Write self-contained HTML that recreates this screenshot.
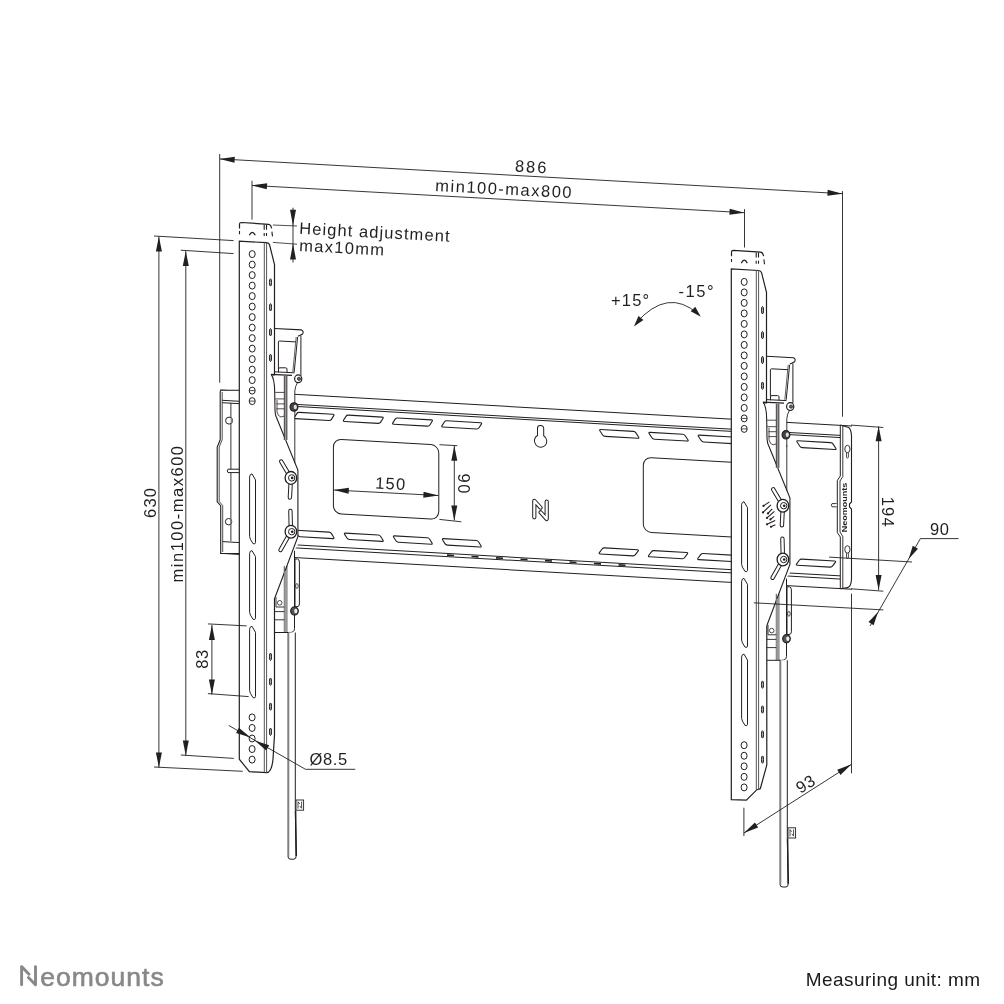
<!DOCTYPE html>
<html><head><meta charset="utf-8"><style>
html,body{margin:0;padding:0;background:#fff;overflow:hidden;}
svg{display:block;will-change:transform;}
text{font-family:"Liberation Sans",sans-serif;}
</style></head><body>
<svg width="1004" height="1004" viewBox="0 0 1004 1004">
<rect width="1004" height="1004" fill="#fff"/>
<g transform="matrix(1,0.057,0,1,0,0)">
<rect x="220" y="377.5" width="621" height="163.3" fill="#fff" stroke="none"/>
<line x1="220.00" y1="377.50" x2="852.00" y2="377.50" stroke="#231f20" stroke-width="1.0" />
<line x1="220.00" y1="387.50" x2="852.00" y2="387.50" stroke="#231f20" stroke-width="1.0" />
<line x1="220.00" y1="389.60" x2="852.00" y2="389.60" stroke="#231f20" stroke-width="1.0" />
<line x1="220.00" y1="528.00" x2="852.00" y2="528.00" stroke="#231f20" stroke-width="1.0" />
<line x1="220.00" y1="531.10" x2="852.00" y2="531.10" stroke="#231f20" stroke-width="1.0" />
<line x1="220.00" y1="540.80" x2="852.00" y2="540.80" stroke="#231f20" stroke-width="1.0" />
<path d="M296.76,396.66 Q297.60,395.30 299.20,395.30 L333.00,395.30 Q334.60,395.30 333.76,396.66 L331.44,400.44 Q330.60,401.80 329.00,401.80 L295.20,401.80 Q293.60,401.80 294.44,400.44 Z" fill="none" stroke="#231f20" stroke-width="1.1"/>
<path d="M345.96,396.66 Q346.80,395.30 348.40,395.30 L382.20,395.30 Q383.80,395.30 382.96,396.66 L380.64,400.44 Q379.80,401.80 378.20,401.80 L344.40,401.80 Q342.80,401.80 343.64,400.44 Z" fill="none" stroke="#231f20" stroke-width="1.1"/>
<path d="M395.16,396.66 Q396.00,395.30 397.60,395.30 L431.40,395.30 Q433.00,395.30 432.16,396.66 L429.84,400.44 Q429.00,401.80 427.40,401.80 L393.60,401.80 Q392.00,401.80 392.84,400.44 Z" fill="none" stroke="#231f20" stroke-width="1.1"/>
<path d="M444.36,396.66 Q445.20,395.30 446.80,395.30 L480.60,395.30 Q482.20,395.30 481.36,396.66 L479.04,400.44 Q478.20,401.80 476.60,401.80 L442.80,401.80 Q441.20,401.80 442.04,400.44 Z" fill="none" stroke="#231f20" stroke-width="1.1"/>
<path d="M599.90,396.62 Q599.00,395.30 600.60,395.30 L633.40,395.30 Q635.00,395.30 635.90,396.62 L638.60,400.58 Q639.50,401.90 637.90,401.90 L605.10,401.90 Q603.50,401.90 602.60,400.58 Z" fill="none" stroke="#231f20" stroke-width="1.1"/>
<path d="M649.20,396.62 Q648.30,395.30 649.90,395.30 L682.70,395.30 Q684.30,395.30 685.20,396.62 L687.90,400.58 Q688.80,401.90 687.20,401.90 L654.40,401.90 Q652.80,401.90 651.90,400.58 Z" fill="none" stroke="#231f20" stroke-width="1.1"/>
<path d="M698.50,396.62 Q697.60,395.30 699.20,395.30 L732.00,395.30 Q733.60,395.30 734.50,396.62 L737.20,400.58 Q738.10,401.90 736.50,401.90 L703.70,401.90 Q702.10,401.90 701.20,400.58 Z" fill="none" stroke="#231f20" stroke-width="1.1"/>
<path d="M747.80,396.62 Q746.90,395.30 748.50,395.30 L781.30,395.30 Q782.90,395.30 783.80,396.62 L786.50,400.58 Q787.40,401.90 785.80,401.90 L753.00,401.90 Q751.40,401.90 750.50,400.58 Z" fill="none" stroke="#231f20" stroke-width="1.1"/>
<path d="M797.10,396.62 Q796.20,395.30 797.80,395.30 L830.60,395.30 Q832.20,395.30 833.10,396.62 L835.80,400.58 Q836.70,401.90 835.10,401.90 L802.30,401.90 Q800.70,401.90 799.80,400.58 Z" fill="none" stroke="#231f20" stroke-width="1.1"/>
<path d="M295.47,514.74 Q294.60,513.40 296.20,513.40 L329.00,513.40 Q330.60,513.40 331.47,514.74 L333.73,518.26 Q334.60,519.60 333.00,519.60 L300.20,519.60 Q298.60,519.60 297.73,518.26 Z" fill="none" stroke="#231f20" stroke-width="1.1"/>
<path d="M344.67,514.74 Q343.80,513.40 345.40,513.40 L378.20,513.40 Q379.80,513.40 380.67,514.74 L382.93,518.26 Q383.80,519.60 382.20,519.60 L349.40,519.60 Q347.80,519.60 346.93,518.26 Z" fill="none" stroke="#231f20" stroke-width="1.1"/>
<path d="M393.67,514.74 Q392.80,513.40 394.40,513.40 L427.20,513.40 Q428.80,513.40 429.67,514.74 L431.93,518.26 Q432.80,519.60 431.20,519.60 L398.40,519.60 Q396.80,519.60 395.93,518.26 Z" fill="none" stroke="#231f20" stroke-width="1.1"/>
<path d="M442.67,514.74 Q441.80,513.40 443.40,513.40 L476.20,513.40 Q477.80,513.40 478.67,514.74 L480.93,518.26 Q481.80,519.60 480.20,519.60 L447.40,519.60 Q445.80,519.60 444.93,518.26 Z" fill="none" stroke="#231f20" stroke-width="1.1"/>
<path d="M602.08,514.71 Q603.00,513.40 604.60,513.40 L637.40,513.40 Q639.00,513.40 638.08,514.71 L635.42,518.49 Q634.50,519.80 632.90,519.80 L600.10,519.80 Q598.50,519.80 599.42,518.49 Z" fill="none" stroke="#231f20" stroke-width="1.1"/>
<path d="M651.38,514.71 Q652.30,513.40 653.90,513.40 L686.70,513.40 Q688.30,513.40 687.38,514.71 L684.72,518.49 Q683.80,519.80 682.20,519.80 L649.40,519.80 Q647.80,519.80 648.72,518.49 Z" fill="none" stroke="#231f20" stroke-width="1.1"/>
<path d="M700.68,514.71 Q701.60,513.40 703.20,513.40 L736.00,513.40 Q737.60,513.40 736.68,514.71 L734.02,518.49 Q733.10,519.80 731.50,519.80 L698.70,519.80 Q697.10,519.80 698.02,518.49 Z" fill="none" stroke="#231f20" stroke-width="1.1"/>
<path d="M749.98,514.71 Q750.90,513.40 752.50,513.40 L785.30,513.40 Q786.90,513.40 785.98,514.71 L783.32,518.49 Q782.40,519.80 780.80,519.80 L748.00,519.80 Q746.40,519.80 747.32,518.49 Z" fill="none" stroke="#231f20" stroke-width="1.1"/>
<path d="M799.28,514.71 Q800.20,513.40 801.80,513.40 L834.60,513.40 Q836.20,513.40 835.28,514.71 L832.62,518.49 Q831.70,519.80 830.10,519.80 L797.30,519.80 Q795.70,519.80 796.62,518.49 Z" fill="none" stroke="#231f20" stroke-width="1.1"/>
<rect x="333.4" y="420.0" width="105.4" height="74.5" rx="8" fill="none" stroke="#231f20" stroke-width="1.0"/>
<rect x="643.3" y="420.6" width="105.4" height="74.7" rx="8" fill="none" stroke="#231f20" stroke-width="1.0"/>
<path d="M537.5,397.8 A3.1,3.1 0 0 1 543.7,397.8 L543.7,404.8 A6.2,6.2 0 1 1 537.5,404.8 Z" fill="none" stroke="#231f20" stroke-width="1.0"/>
<line x1="447.00" y1="529.60" x2="454.00" y2="529.60" stroke="#231f20" stroke-width="1.6" />
<line x1="471.50" y1="529.60" x2="478.50" y2="529.60" stroke="#231f20" stroke-width="1.6" />
<line x1="496.00" y1="529.60" x2="503.00" y2="529.60" stroke="#231f20" stroke-width="1.6" />
<line x1="520.50" y1="529.60" x2="527.50" y2="529.60" stroke="#231f20" stroke-width="1.6" />
<line x1="545.00" y1="529.60" x2="552.00" y2="529.60" stroke="#231f20" stroke-width="1.6" />
<line x1="569.50" y1="529.60" x2="576.50" y2="529.60" stroke="#231f20" stroke-width="1.6" />
<line x1="594.00" y1="529.60" x2="601.00" y2="529.60" stroke="#231f20" stroke-width="1.6" />
<line x1="618.50" y1="529.60" x2="625.50" y2="529.60" stroke="#231f20" stroke-width="1.6" />
</g>
<path d="M534.3,517.3 L534.3,500.8 L540.5,507.6 M540.6,512.3 L546.7,519 L546.7,501.6" fill="none" stroke="#231f20" stroke-width="4.2" stroke-linecap="round" stroke-linejoin="round"/>
<path d="M534.3,517.3 L534.3,500.8 L540.5,507.6 M540.6,512.3 L546.7,519 L546.7,501.6" fill="none" stroke="#fff" stroke-width="2.2" stroke-linecap="round" stroke-linejoin="round"/>
<g>
<path d="M239.5,390.2 L222,390.2 Q220.2,390.2 220.2,392 L220.2,439.8 L217.2,447 L217.2,501.8 L220.7,505.7 L220.7,553.5 L239.5,553.5" fill="#fff" stroke="#231f20" stroke-width="1.1"/>
<path d="M222.2,392 L222.2,439.5 L219.2,447 L219.2,501.5 L222.7,505.5 L222.7,552" fill="none" stroke="#231f20" stroke-width="0.8"/>
<line x1="222.20" y1="400.30" x2="239.50" y2="401.30" stroke="#231f20" stroke-width="1.0" />
<line x1="222.20" y1="402.70" x2="239.50" y2="403.70" stroke="#231f20" stroke-width="1.0" />
<line x1="230.90" y1="403.00" x2="230.90" y2="541.00" stroke="#231f20" stroke-width="0.9" />
<line x1="222.70" y1="541.60" x2="239.50" y2="542.60" stroke="#231f20" stroke-width="1.0" />
<circle cx="229.1" cy="420.6" r="3.5" fill="#fff" stroke="#231f20" stroke-width="1"/><path d="M230.6,417.4 A3.5,3.5 0 0 1 230.6,423.8 Z" fill="#888"/>
<circle cx="228.6" cy="521.7" r="3.2" fill="#fff" stroke="#231f20" stroke-width="1"/><path d="M230,518.8 A3.2,3.2 0 0 1 230,524.6 Z" fill="#888"/>
<path d="M239.5,469.2 L228,469.2 Q226.5,470.9 228,472.6 L239.5,472.6" fill="#fff" stroke="#231f20" stroke-width="1"/>
</g>
<g>
<path d="M840.3,425 L848.7,427.5 Q851,429 851.5,435.9 L851.5,579.3 Q851,587 847.5,587.6 L840.3,588.8 L840.3,537 L837.3,532.5 L837.3,480.5 L840.3,476 Z" fill="#fff" stroke="none"/>
<path d="M840.3,425 L848.7,427.5 Q851,429 851.5,435.9 L851.5,502 L849.5,504 L849.5,507 L851.5,509 L851.5,579.3 Q851,587 847.5,587.6 L840.3,588.8" fill="none" stroke="#231f20" stroke-width="1.1"/>
<path d="M842.8,426 L842.8,476.5 L840,481 L840,532 L842.8,536.5 L842.8,588.3" fill="none" stroke="#231f20" stroke-width="0.9"/>
<path d="M840.3,425 L840.3,476 L837.3,480.5 L837.3,532.5 L840.3,537 L840.3,588.8" fill="none" stroke="#231f20" stroke-width="1.0"/>
<rect x="846.5" y="452.0" width="1.9" height="6" rx="0.9" fill="#fff" stroke="#231f20" stroke-width="0.8"/>
<ellipse cx="847.4" cy="449.0" rx="2.6" ry="3.7" fill="#fff" stroke="#231f20" stroke-width="0.9"/>
<rect x="846.5" y="552.4" width="1.9" height="6" rx="0.9" fill="#fff" stroke="#231f20" stroke-width="0.8"/>
<ellipse cx="847.4" cy="549.4" rx="2.6" ry="3.7" fill="#fff" stroke="#231f20" stroke-width="0.9"/>
<path d="M836.7,503.6 L832,503.6 Q830.5,505.2 832,506.8 L836.7,506.8" fill="#fff" stroke="#231f20" stroke-width="0.9"/>
<text x="844.60" y="507.40" font-size="7.6" font-weight="bold" fill="#231f20" text-anchor="middle" textLength="49.5" lengthAdjust="spacingAndGlyphs" transform="rotate(-90.00 844.60 507.40)" dominant-baseline="central">Neomounts</text>
</g>
<g id="upL">
<path d="M239.3,241.2 L266.5,242.7 Q269,242.9 269.6,245 L274.5,264.5 L274.5,328.5 L303,330 L303,376 L298,384 L294.6,390 L294.6,463 L297.9,470 L297.9,545 L294.5,550 L294.5,632.5 L274.8,632.5 L274.5,735 L273,759 Q271.8,772.5 266.5,772.7 L249.4,771.7 L239.3,759.2 Z" fill="#fff" stroke="none"/>
<path d="M271.5,375 L274.5,375 L274.5,264.5 L269.6,245 Q269,242.9 266.5,242.7 L239.3,241.2 L239.3,759.2 L249.4,771.7 L266.5,772.7 Q271.8,772.5 273,759 L274.5,735 L274.5,598" fill="none" stroke="#231f20" stroke-width="1.2"/>
<line x1="264.30" y1="242.50" x2="264.30" y2="772.50" stroke="#555" stroke-width="1.0" />
<line x1="266.60" y1="242.60" x2="266.60" y2="772.50" stroke="#555" stroke-width="1.0" />
<path d="M271,374.3 Q274.5,378 274.7,392 L275,410 Q275.3,415.5 276.5,417.5 L297.9,470 L297.9,536.6 L274.8,598" fill="none" stroke="#231f20" stroke-width="1.1"/>
<path d="M275.2,392.4 L284.5,392.4 M275.2,398.9 L284.5,398.9 M276.5,403.9 L284.5,403.9 M276.5,408.8 L284.5,408.8 M277,400 L277,412 Q278,416.5 281,417 L284.5,416" fill="none" stroke="#231f20" stroke-width="0.8"/>
<rect x="284.3" y="376" width="2.6" height="64" fill="#9a9a9a"/>
<line x1="284.30" y1="376.00" x2="284.30" y2="440.00" stroke="#231f20" stroke-width="0.8" />
<line x1="286.90" y1="376.00" x2="286.90" y2="440.00" stroke="#231f20" stroke-width="0.8" />
<line x1="284.30" y1="566.00" x2="284.30" y2="632.50" stroke="#231f20" stroke-width="0.8" />
<line x1="286.90" y1="566.00" x2="286.90" y2="632.50" stroke="#231f20" stroke-width="0.8" />
<rect x="284.3" y="571" width="2.6" height="61" fill="#9a9a9a"/>
<path d="M274.5,328.5 L301.5,329.9 Q304.2,331.3 302.6,334 L299.5,335.5 L297.9,336.2" fill="none" stroke="#231f20" stroke-width="1.1"/>
<line x1="300.90" y1="335.50" x2="300.90" y2="375.80" stroke="#231f20" stroke-width="1.0" />
<path d="M278.4,369 L278.4,342 Q278.4,341 279.5,341 L295.9,341.9" fill="none" stroke="#231f20" stroke-width="1.0"/>
<line x1="297.60" y1="337.00" x2="294.20" y2="372.00" stroke="#231f20" stroke-width="1.0" />
<line x1="296.20" y1="337.00" x2="292.80" y2="372.00" stroke="#231f20" stroke-width="0.7" />
<path d="M278.5,372.5 L278.5,369 Q278.5,367.8 280,367.8 L285.5,367.8 Q287,367.8 287,369 L287,372.5" fill="#fff" stroke="#231f20" stroke-width="1"/>
<line x1="274.50" y1="371.80" x2="294.50" y2="372.80" stroke="#231f20" stroke-width="1.0" />
<line x1="271.00" y1="374.30" x2="292.00" y2="375.30" stroke="#231f20" stroke-width="1.2" />
<path d="M297.5,382.5 Q295.2,386 294.8,391 L294.8,463" fill="none" stroke="#231f20" stroke-width="0.9"/>
<ellipse cx="298.2" cy="378.8" rx="3.6" ry="3.9" fill="#fff" stroke="#231f20" stroke-width="1.2"/>
<circle cx="299" cy="378.8" r="1.6" fill="#666" stroke="#231f20" stroke-width="0.8"/>
<ellipse cx="294" cy="407" rx="3.9" ry="4.2" fill="#444" stroke="#231f20" stroke-width="1.2"/>
<ellipse cx="295.3" cy="407" rx="1.6" ry="2.2" fill="#ddd" stroke="none"/>
<path d="M294.5,550.8 L294.5,628.6 Q294.3,632.5 290,632.5 L274.8,632.5" fill="none" stroke="#231f20" stroke-width="1.0"/>
<path d="M295,606.7 L295,559 L297.5,559 Q299.4,559.5 299.4,562 L299.4,604 Q299.4,606.7 297,606.7 Z" fill="#fff" stroke="#231f20" stroke-width="1.0"/>
<ellipse cx="296.9" cy="586" rx="1.3" ry="2.4" fill="none" stroke="#231f20" stroke-width="0.8"/>
<path d="M274.8,611.6 L284.3,611.6 M274.8,619.8 L284.3,619.8 M276,597 L276,607 L284.3,607" fill="none" stroke="#231f20" stroke-width="0.9"/>
<circle cx="279.7" cy="602.8" r="2.3" fill="none" stroke="#231f20" stroke-width="0.8"/>
<ellipse cx="294.5" cy="611" rx="3.8" ry="4.1" fill="#555" stroke="#231f20" stroke-width="1.2"/>
<ellipse cx="295.8" cy="611" rx="1.6" ry="2.2" fill="#eee" stroke="none"/>
<line x1="290.90" y1="477.90" x2="281.20" y2="461.50" stroke="#231f20" stroke-width="4.4" stroke-linecap="round"/>
<line x1="290.90" y1="477.90" x2="281.20" y2="461.50" stroke="#fff" stroke-width="2.4" stroke-linecap="round"/>
<line x1="290.90" y1="477.90" x2="289.90" y2="497.50" stroke="#231f20" stroke-width="4.4" stroke-linecap="round"/>
<line x1="290.90" y1="477.90" x2="289.90" y2="497.50" stroke="#fff" stroke-width="2.4" stroke-linecap="round"/>
<ellipse cx="290.9" cy="477.9" rx="5.8" ry="6.4" fill="#fff" stroke="#231f20" stroke-width="1.3"/>
<circle cx="291.7" cy="477.9" r="3.2" fill="#fff" stroke="#231f20" stroke-width="1"/>
<circle cx="292.2" cy="477.9" r="1.3" fill="#231f20"/>
<line x1="290.90" y1="531.70" x2="290.40" y2="511.00" stroke="#231f20" stroke-width="4.4" stroke-linecap="round"/>
<line x1="290.90" y1="531.70" x2="290.40" y2="511.00" stroke="#fff" stroke-width="2.4" stroke-linecap="round"/>
<line x1="290.90" y1="531.70" x2="280.50" y2="550.00" stroke="#231f20" stroke-width="4.4" stroke-linecap="round"/>
<line x1="290.90" y1="531.70" x2="280.50" y2="550.00" stroke="#fff" stroke-width="2.4" stroke-linecap="round"/>
<ellipse cx="290.9" cy="531.7" rx="5.8" ry="6.4" fill="#fff" stroke="#231f20" stroke-width="1.3"/>
<circle cx="291.7" cy="531.7" r="3.2" fill="#fff" stroke="#231f20" stroke-width="1"/>
<circle cx="292.2" cy="531.7" r="1.3" fill="#231f20"/>
<path d="M288.1,632.5 L288.1,857 Q288.1,859.2 291,859.2 L294,859.2 Q296.3,859 296.1,856 L295.3,810 L295.3,632.5" fill="#fff" stroke="#231f20" stroke-width="1.0"/>
<line x1="289.10" y1="633.00" x2="289.10" y2="857.00" stroke="#999" stroke-width="0.6" />
<path d="M295.6,811 L296.3,856" stroke="#231f20" stroke-width="1.5"/>
<rect x="296" y="800" width="7.6" height="10.2" fill="#fff" stroke="#231f20" stroke-width="0.9"/>
<path d="M298,808.6 L298,801.8 L299.8,804 M299.8,806 L301.6,808.3 L301.6,801.6" fill="none" stroke="#231f20" stroke-width="0.8"/>
<ellipse cx="252.2" cy="254.10" rx="3.0" ry="3.5" fill="none" stroke="#231f20" stroke-width="1.0"/>
<ellipse cx="252.2" cy="264.60" rx="3.0" ry="3.5" fill="none" stroke="#231f20" stroke-width="1.0"/>
<ellipse cx="252.2" cy="275.10" rx="3.0" ry="3.5" fill="none" stroke="#231f20" stroke-width="1.0"/>
<ellipse cx="252.2" cy="285.60" rx="3.0" ry="3.5" fill="none" stroke="#231f20" stroke-width="1.0"/>
<ellipse cx="252.2" cy="296.10" rx="3.0" ry="3.5" fill="none" stroke="#231f20" stroke-width="1.0"/>
<ellipse cx="252.2" cy="306.60" rx="3.0" ry="3.5" fill="none" stroke="#231f20" stroke-width="1.0"/>
<ellipse cx="252.2" cy="317.10" rx="3.0" ry="3.5" fill="none" stroke="#231f20" stroke-width="1.0"/>
<ellipse cx="252.2" cy="327.60" rx="3.0" ry="3.5" fill="none" stroke="#231f20" stroke-width="1.0"/>
<ellipse cx="252.2" cy="338.10" rx="3.0" ry="3.5" fill="none" stroke="#231f20" stroke-width="1.0"/>
<ellipse cx="252.2" cy="348.60" rx="3.0" ry="3.5" fill="none" stroke="#231f20" stroke-width="1.0"/>
<ellipse cx="252.2" cy="359.10" rx="3.0" ry="3.5" fill="none" stroke="#231f20" stroke-width="1.0"/>
<ellipse cx="252.2" cy="369.60" rx="3.0" ry="3.5" fill="none" stroke="#231f20" stroke-width="1.0"/>
<ellipse cx="252.2" cy="380.10" rx="3.0" ry="3.5" fill="none" stroke="#231f20" stroke-width="1.0"/>
<ellipse cx="252.2" cy="390.60" rx="3.0" ry="3.5" fill="none" stroke="#231f20" stroke-width="1.0"/>
<ellipse cx="252.2" cy="401.10" rx="3.0" ry="3.5" fill="none" stroke="#231f20" stroke-width="1.0"/>
<line x1="249.40" y1="390.60" x2="255.00" y2="390.60" stroke="#231f20" stroke-width="0.8" />
<line x1="249.40" y1="401.10" x2="255.00" y2="401.10" stroke="#231f20" stroke-width="0.8" />
<ellipse cx="252.1" cy="717.40" rx="3.0" ry="3.5" fill="none" stroke="#231f20" stroke-width="1.0"/>
<ellipse cx="252.1" cy="727.95" rx="3.0" ry="3.5" fill="none" stroke="#231f20" stroke-width="1.0"/>
<ellipse cx="252.1" cy="738.50" rx="3.0" ry="3.5" fill="none" stroke="#231f20" stroke-width="1.0"/>
<ellipse cx="252.1" cy="749.05" rx="3.0" ry="3.5" fill="none" stroke="#231f20" stroke-width="1.0"/>
<ellipse cx="252.1" cy="759.60" rx="3.0" ry="3.5" fill="none" stroke="#231f20" stroke-width="1.0"/>
<ellipse cx="270.5" cy="282.40" rx="1.05" ry="3.7" fill="#aaa" stroke="#231f20" stroke-width="1.0"/>
<ellipse cx="270.5" cy="307.30" rx="1.05" ry="3.7" fill="#aaa" stroke="#231f20" stroke-width="1.0"/>
<ellipse cx="270.5" cy="332.20" rx="1.05" ry="3.7" fill="#aaa" stroke="#231f20" stroke-width="1.0"/>
<ellipse cx="270.5" cy="357.90" rx="1.05" ry="3.7" fill="#aaa" stroke="#231f20" stroke-width="1.0"/>
<ellipse cx="270.5" cy="656.80" rx="1.05" ry="3.7" fill="#aaa" stroke="#231f20" stroke-width="1.0"/>
<ellipse cx="270.5" cy="681.70" rx="1.05" ry="3.7" fill="#aaa" stroke="#231f20" stroke-width="1.0"/>
<ellipse cx="270.5" cy="706.60" rx="1.05" ry="3.7" fill="#aaa" stroke="#231f20" stroke-width="1.0"/>
<ellipse cx="270.5" cy="731.80" rx="1.05" ry="3.7" fill="#aaa" stroke="#231f20" stroke-width="1.0"/>
<path d="M249.6,476.9 Q249.8,473.9 252,473.9 L255.5,479.9 L255.5,542.6 Q255.3,544.6 253,543.6 Q249.6,538.6 249.6,536.6 Z" fill="none" stroke="#231f20" stroke-width="1.0"/>
<path d="M249.6,553.6 Q249.8,550.6 252,550.6 L255.5,556.6 L255.5,618.3 Q255.3,620.3 253,619.3 Q249.6,614.3 249.6,612.3 Z" fill="none" stroke="#231f20" stroke-width="1.0"/>
<path d="M249.6,629.3 Q249.8,626.3 252,626.3 L255.5,632.3 L255.5,696.6 Q255.3,698.6 253,697.6 Q249.6,692.6 249.6,690.6 Z" fill="none" stroke="#231f20" stroke-width="1.0"/>
<path d="M239.5,228.4 L239.5,224 Q239.5,222.5 241.5,222.5 L268.6,224.3 Q271,224.6 271.6,228.4" fill="none" stroke="#231f20" stroke-width="1.2"/>
<path d="M239.5,231.1 L239.5,234.3 M271.9,231.6 L272.5,236.4 M264.2,224.7 L264.2,229.7 M264.2,233 L264.2,236 M266.5,224.7 L266.5,229.7 M266.5,233 L266.5,236" fill="none" stroke="#231f20" stroke-width="1.1"/>
<path d="M249.3,235.3 Q252.3,229.5 255.3,235.3" fill="none" stroke="#231f20" stroke-width="1.2"/>
</g>
<g transform="translate(492,27.8)">
<path d="M239.3,241.2 L266.5,242.7 Q269,242.9 269.6,245 L274.5,264.5 L274.5,328.5 L303,330 L303,376 L298,384 L294.6,390 L294.6,463 L297.9,470 L297.9,545 L294.5,550 L294.5,632.5 L274.8,632.5 L274.8,737 L268.3,760.9 L264.9,761.9 L254.4,772.4 L239.3,771.9 Z" fill="#fff" stroke="none"/>
<path d="M271.5,375 L274.5,375 L274.5,264.5 L269.6,245 Q269,242.9 266.5,242.7 L239.3,241.2 L239.3,771.9 L254.4,772.4 L264.9,761.9 L268.3,760.9 L274.8,737 L274.8,598" fill="none" stroke="#231f20" stroke-width="1.2"/>
<line x1="264.30" y1="242.50" x2="264.30" y2="762.00" stroke="#555" stroke-width="1.0" />
<line x1="266.60" y1="242.60" x2="266.60" y2="762.00" stroke="#555" stroke-width="1.0" />
<path d="M271,374.3 Q274.5,378 274.7,392 L275,410 Q275.3,415.5 276.5,417.5 L297.9,470 L297.9,536.6 L274.8,598" fill="none" stroke="#231f20" stroke-width="1.1"/>
<path d="M275.2,392.4 L284.5,392.4 M275.2,398.9 L284.5,398.9 M276.5,403.9 L284.5,403.9 M276.5,408.8 L284.5,408.8 M277,400 L277,412 Q278,416.5 281,417 L284.5,416" fill="none" stroke="#231f20" stroke-width="0.8"/>
<rect x="284.3" y="376" width="2.6" height="64" fill="#9a9a9a"/>
<line x1="284.30" y1="376.00" x2="284.30" y2="440.00" stroke="#231f20" stroke-width="0.8" />
<line x1="286.90" y1="376.00" x2="286.90" y2="440.00" stroke="#231f20" stroke-width="0.8" />
<line x1="284.30" y1="566.00" x2="284.30" y2="632.50" stroke="#231f20" stroke-width="0.8" />
<line x1="286.90" y1="566.00" x2="286.90" y2="632.50" stroke="#231f20" stroke-width="0.8" />
<rect x="284.3" y="571" width="2.6" height="61" fill="#9a9a9a"/>
<path d="M274.5,328.5 L301.5,329.9 Q304.2,331.3 302.6,334 L299.5,335.5 L297.9,336.2" fill="none" stroke="#231f20" stroke-width="1.1"/>
<line x1="300.90" y1="335.50" x2="300.90" y2="375.80" stroke="#231f20" stroke-width="1.0" />
<path d="M278.4,369 L278.4,342 Q278.4,341 279.5,341 L295.9,341.9" fill="none" stroke="#231f20" stroke-width="1.0"/>
<line x1="297.60" y1="337.00" x2="294.20" y2="372.00" stroke="#231f20" stroke-width="1.0" />
<line x1="296.20" y1="337.00" x2="292.80" y2="372.00" stroke="#231f20" stroke-width="0.7" />
<path d="M278.5,372.5 L278.5,369 Q278.5,367.8 280,367.8 L285.5,367.8 Q287,367.8 287,369 L287,372.5" fill="#fff" stroke="#231f20" stroke-width="1"/>
<line x1="274.50" y1="371.80" x2="294.50" y2="372.80" stroke="#231f20" stroke-width="1.0" />
<line x1="271.00" y1="374.30" x2="292.00" y2="375.30" stroke="#231f20" stroke-width="1.2" />
<path d="M297.5,382.5 Q295.2,386 294.8,391 L294.8,463" fill="none" stroke="#231f20" stroke-width="0.9"/>
<ellipse cx="298.2" cy="378.8" rx="3.6" ry="3.9" fill="#fff" stroke="#231f20" stroke-width="1.2"/>
<circle cx="299" cy="378.8" r="1.6" fill="#666" stroke="#231f20" stroke-width="0.8"/>
<ellipse cx="294" cy="407" rx="3.9" ry="4.2" fill="#444" stroke="#231f20" stroke-width="1.2"/>
<ellipse cx="295.3" cy="407" rx="1.6" ry="2.2" fill="#ddd" stroke="none"/>
<path d="M294.5,550.8 L294.5,628.6 Q294.3,632.5 290,632.5 L274.8,632.5" fill="none" stroke="#231f20" stroke-width="1.0"/>
<path d="M295,606.7 L295,559 L297.5,559 Q299.4,559.5 299.4,562 L299.4,604 Q299.4,606.7 297,606.7 Z" fill="#fff" stroke="#231f20" stroke-width="1.0"/>
<ellipse cx="296.9" cy="586" rx="1.3" ry="2.4" fill="none" stroke="#231f20" stroke-width="0.8"/>
<path d="M274.8,611.6 L284.3,611.6 M274.8,619.8 L284.3,619.8 M276,597 L276,607 L284.3,607" fill="none" stroke="#231f20" stroke-width="0.9"/>
<circle cx="279.7" cy="602.8" r="2.3" fill="none" stroke="#231f20" stroke-width="0.8"/>
<ellipse cx="294.5" cy="611" rx="3.8" ry="4.1" fill="#555" stroke="#231f20" stroke-width="1.2"/>
<ellipse cx="295.8" cy="611" rx="1.6" ry="2.2" fill="#eee" stroke="none"/>
<line x1="290.90" y1="477.90" x2="281.20" y2="461.50" stroke="#231f20" stroke-width="4.4" stroke-linecap="round"/>
<line x1="290.90" y1="477.90" x2="281.20" y2="461.50" stroke="#fff" stroke-width="2.4" stroke-linecap="round"/>
<line x1="290.90" y1="477.90" x2="289.90" y2="497.50" stroke="#231f20" stroke-width="4.4" stroke-linecap="round"/>
<line x1="290.90" y1="477.90" x2="289.90" y2="497.50" stroke="#fff" stroke-width="2.4" stroke-linecap="round"/>
<ellipse cx="290.9" cy="477.9" rx="5.8" ry="6.4" fill="#fff" stroke="#231f20" stroke-width="1.3"/>
<circle cx="291.7" cy="477.9" r="3.2" fill="#fff" stroke="#231f20" stroke-width="1"/>
<circle cx="292.2" cy="477.9" r="1.3" fill="#231f20"/>
<line x1="290.90" y1="531.70" x2="290.40" y2="511.00" stroke="#231f20" stroke-width="4.4" stroke-linecap="round"/>
<line x1="290.90" y1="531.70" x2="290.40" y2="511.00" stroke="#fff" stroke-width="2.4" stroke-linecap="round"/>
<line x1="290.90" y1="531.70" x2="280.50" y2="550.00" stroke="#231f20" stroke-width="4.4" stroke-linecap="round"/>
<line x1="290.90" y1="531.70" x2="280.50" y2="550.00" stroke="#fff" stroke-width="2.4" stroke-linecap="round"/>
<ellipse cx="290.9" cy="531.7" rx="5.8" ry="6.4" fill="#fff" stroke="#231f20" stroke-width="1.3"/>
<circle cx="291.7" cy="531.7" r="3.2" fill="#fff" stroke="#231f20" stroke-width="1"/>
<circle cx="292.2" cy="531.7" r="1.3" fill="#231f20"/>
<path d="M288.1,632.5 L288.1,857 Q288.1,859.2 291,859.2 L294,859.2 Q296.3,859 296.1,856 L295.3,810 L295.3,632.5" fill="#fff" stroke="#231f20" stroke-width="1.0"/>
<line x1="289.10" y1="633.00" x2="289.10" y2="857.00" stroke="#999" stroke-width="0.6" />
<path d="M295.6,811 L296.3,856" stroke="#231f20" stroke-width="1.5"/>
<rect x="296" y="800" width="7.6" height="10.2" fill="#fff" stroke="#231f20" stroke-width="0.9"/>
<path d="M298,808.6 L298,801.8 L299.8,804 M299.8,806 L301.6,808.3 L301.6,801.6" fill="none" stroke="#231f20" stroke-width="0.8"/>
<ellipse cx="252.2" cy="254.10" rx="3.0" ry="3.5" fill="none" stroke="#231f20" stroke-width="1.0"/>
<ellipse cx="252.2" cy="264.60" rx="3.0" ry="3.5" fill="none" stroke="#231f20" stroke-width="1.0"/>
<ellipse cx="252.2" cy="275.10" rx="3.0" ry="3.5" fill="none" stroke="#231f20" stroke-width="1.0"/>
<ellipse cx="252.2" cy="285.60" rx="3.0" ry="3.5" fill="none" stroke="#231f20" stroke-width="1.0"/>
<ellipse cx="252.2" cy="296.10" rx="3.0" ry="3.5" fill="none" stroke="#231f20" stroke-width="1.0"/>
<ellipse cx="252.2" cy="306.60" rx="3.0" ry="3.5" fill="none" stroke="#231f20" stroke-width="1.0"/>
<ellipse cx="252.2" cy="317.10" rx="3.0" ry="3.5" fill="none" stroke="#231f20" stroke-width="1.0"/>
<ellipse cx="252.2" cy="327.60" rx="3.0" ry="3.5" fill="none" stroke="#231f20" stroke-width="1.0"/>
<ellipse cx="252.2" cy="338.10" rx="3.0" ry="3.5" fill="none" stroke="#231f20" stroke-width="1.0"/>
<ellipse cx="252.2" cy="348.60" rx="3.0" ry="3.5" fill="none" stroke="#231f20" stroke-width="1.0"/>
<ellipse cx="252.2" cy="359.10" rx="3.0" ry="3.5" fill="none" stroke="#231f20" stroke-width="1.0"/>
<ellipse cx="252.2" cy="369.60" rx="3.0" ry="3.5" fill="none" stroke="#231f20" stroke-width="1.0"/>
<ellipse cx="252.2" cy="380.10" rx="3.0" ry="3.5" fill="none" stroke="#231f20" stroke-width="1.0"/>
<ellipse cx="252.2" cy="390.60" rx="3.0" ry="3.5" fill="none" stroke="#231f20" stroke-width="1.0"/>
<ellipse cx="252.2" cy="401.10" rx="3.0" ry="3.5" fill="none" stroke="#231f20" stroke-width="1.0"/>
<line x1="249.40" y1="390.60" x2="255.00" y2="390.60" stroke="#231f20" stroke-width="0.8" />
<line x1="249.40" y1="401.10" x2="255.00" y2="401.10" stroke="#231f20" stroke-width="0.8" />
<ellipse cx="252.1" cy="717.40" rx="3.0" ry="3.5" fill="none" stroke="#231f20" stroke-width="1.0"/>
<ellipse cx="252.1" cy="727.95" rx="3.0" ry="3.5" fill="none" stroke="#231f20" stroke-width="1.0"/>
<ellipse cx="252.1" cy="738.50" rx="3.0" ry="3.5" fill="none" stroke="#231f20" stroke-width="1.0"/>
<ellipse cx="252.1" cy="749.05" rx="3.0" ry="3.5" fill="none" stroke="#231f20" stroke-width="1.0"/>
<ellipse cx="252.1" cy="759.60" rx="3.0" ry="3.5" fill="none" stroke="#231f20" stroke-width="1.0"/>
<ellipse cx="270.5" cy="282.40" rx="1.05" ry="3.7" fill="#aaa" stroke="#231f20" stroke-width="1.0"/>
<ellipse cx="270.5" cy="307.30" rx="1.05" ry="3.7" fill="#aaa" stroke="#231f20" stroke-width="1.0"/>
<ellipse cx="270.5" cy="332.20" rx="1.05" ry="3.7" fill="#aaa" stroke="#231f20" stroke-width="1.0"/>
<ellipse cx="270.5" cy="357.90" rx="1.05" ry="3.7" fill="#aaa" stroke="#231f20" stroke-width="1.0"/>
<ellipse cx="270.5" cy="656.80" rx="1.05" ry="3.7" fill="#aaa" stroke="#231f20" stroke-width="1.0"/>
<ellipse cx="270.5" cy="681.70" rx="1.05" ry="3.7" fill="#aaa" stroke="#231f20" stroke-width="1.0"/>
<ellipse cx="270.5" cy="706.60" rx="1.05" ry="3.7" fill="#aaa" stroke="#231f20" stroke-width="1.0"/>
<ellipse cx="270.5" cy="731.80" rx="1.05" ry="3.7" fill="#aaa" stroke="#231f20" stroke-width="1.0"/>
<path d="M249.6,476.9 Q249.8,473.9 252,473.9 L255.5,479.9 L255.5,542.6 Q255.3,544.6 253,543.6 Q249.6,538.6 249.6,536.6 Z" fill="none" stroke="#231f20" stroke-width="1.0"/>
<path d="M249.6,553.6 Q249.8,550.6 252,550.6 L255.5,556.6 L255.5,618.3 Q255.3,620.3 253,619.3 Q249.6,614.3 249.6,612.3 Z" fill="none" stroke="#231f20" stroke-width="1.0"/>
<path d="M249.6,629.3 Q249.8,626.3 252,626.3 L255.5,632.3 L255.5,696.6 Q255.3,698.6 253,697.6 Q249.6,692.6 249.6,690.6 Z" fill="none" stroke="#231f20" stroke-width="1.0"/>
<path d="M239.5,228.4 L239.5,224 Q239.5,222.5 241.5,222.5 L268.6,224.3 Q271,224.6 271.6,228.4" fill="none" stroke="#231f20" stroke-width="1.2"/>
<path d="M239.5,231.1 L239.5,234.3 M271.9,231.6 L272.5,236.4 M264.2,224.7 L264.2,229.7 M264.2,233 L264.2,236 M266.5,224.7 L266.5,229.7 M266.5,233 L266.5,236" fill="none" stroke="#231f20" stroke-width="1.1"/>
<path d="M249.3,235.3 Q252.3,229.5 255.3,235.3" fill="none" stroke="#231f20" stroke-width="1.2"/>
</g>
<g stroke="#231f20" stroke-width="1.1" fill="#231f20">
<line x1="763.5" y1="505.9" x2="769.4" y2="501.9"/><circle cx="763.5" cy="505.9" r="1.1" stroke="none"/>
<line x1="763" y1="512.4" x2="770.9" y2="504.9"/><circle cx="763" cy="512.4" r="1.1" stroke="none"/>
<line x1="768" y1="513.4" x2="772.2" y2="508.9"/><circle cx="768" cy="513.4" r="1.1" stroke="none"/>
<line x1="767" y1="517.9" x2="774.4" y2="511.4"/><circle cx="767" cy="517.9" r="1.1" stroke="none"/>
<line x1="770.4" y1="519.4" x2="774.2" y2="516.4"/><circle cx="770.4" cy="519.4" r="1.1" stroke="none"/>
<line x1="767" y1="524.3" x2="775.2" y2="520.4"/><circle cx="767" cy="524.3" r="1.1" stroke="none"/>
<line x1="771" y1="526.8" x2="775.4" y2="524.8"/><circle cx="771" cy="526.8" r="1.1" stroke="none"/>
</g>
<line x1="219.70" y1="158.90" x2="842.50" y2="193.70" stroke="#231f20" stroke-width="0.9" />
<polygon points="219.70,158.90 234.84,156.74 234.51,162.73" fill="#231f20"/>
<polygon points="842.50,193.70 827.36,195.86 827.69,189.87" fill="#231f20"/>
<line x1="219.70" y1="154.00" x2="219.70" y2="382.70" stroke="#231f20" stroke-width="0.9" />
<line x1="842.50" y1="191.10" x2="842.50" y2="416.70" stroke="#231f20" stroke-width="0.9" />
<text x="515.00" y="172.40" font-size="16.5" font-weight="normal" fill="#231f20" text-anchor="start" textLength="31.4" lengthAdjust="spacing" transform="rotate(3.10 530.00 168.00)" >886</text>
<line x1="252.00" y1="185.40" x2="744.50" y2="212.70" stroke="#231f20" stroke-width="0.9" />
<polygon points="252.00,185.40 267.14,183.23 266.81,189.23" fill="#231f20"/>
<polygon points="744.50,212.70 729.36,214.87 729.69,208.87" fill="#231f20"/>
<line x1="252.00" y1="180.80" x2="252.00" y2="219.70" stroke="#231f20" stroke-width="0.9" />
<line x1="744.50" y1="209.10" x2="744.50" y2="247.50" stroke="#231f20" stroke-width="0.9" />
<text x="435.20" y="194.50" font-size="16.5" font-weight="normal" fill="#231f20" text-anchor="start" textLength="136.3" lengthAdjust="spacing" transform="rotate(3.00 503.00 191.00)" >min100-max800</text>
<line x1="293.00" y1="207.70" x2="293.00" y2="262.50" stroke="#231f20" stroke-width="0.9" />
<polygon points="293.00,225.70 290.00,209.70 296.00,209.70" fill="#231f20"/>
<polygon points="293.00,243.60 296.00,259.60 290.00,259.60" fill="#231f20"/>
<line x1="272.90" y1="225.00" x2="297.00" y2="226.00" stroke="#231f20" stroke-width="0.8" />
<line x1="272.90" y1="242.40" x2="297.00" y2="244.20" stroke="#231f20" stroke-width="0.8" />
<text x="299.00" y="233.80" font-size="16.5" font-weight="normal" fill="#231f20" text-anchor="start" textLength="150.5" lengthAdjust="spacing" transform="rotate(3.00 299.00 233.00)" >Height adjustment</text>
<text x="299.00" y="251.00" font-size="16.5" font-weight="normal" fill="#231f20" text-anchor="start" textLength="85" lengthAdjust="spacing" transform="rotate(3.00 299.00 250.00)" >max10mm</text>
<line x1="158.90" y1="236.60" x2="158.90" y2="767.50" stroke="#231f20" stroke-width="0.9" />
<polygon points="158.90,236.60 161.90,251.60 155.90,251.60" fill="#231f20"/>
<polygon points="158.90,767.50 155.90,752.50 161.90,752.50" fill="#231f20"/>
<line x1="154.00" y1="236.00" x2="233.60" y2="240.60" stroke="#231f20" stroke-width="0.9" />
<line x1="154.00" y1="767.00" x2="242.70" y2="771.30" stroke="#231f20" stroke-width="0.9" />
<text x="150.00" y="508.50" font-size="16.5" font-weight="normal" fill="#231f20" text-anchor="middle" textLength="30" lengthAdjust="spacing" transform="rotate(-90.00 150.00 503.00)" >630</text>
<line x1="185.80" y1="251.10" x2="185.80" y2="755.40" stroke="#231f20" stroke-width="0.9" />
<polygon points="185.80,251.10 188.80,266.10 182.80,266.10" fill="#231f20"/>
<polygon points="185.80,755.40 182.80,740.40 188.80,740.40" fill="#231f20"/>
<line x1="180.80" y1="250.20" x2="233.60" y2="253.60" stroke="#231f20" stroke-width="0.9" />
<line x1="180.80" y1="755.00" x2="233.80" y2="758.40" stroke="#231f20" stroke-width="0.9" />
<text x="177.30" y="520.00" font-size="16.5" font-weight="normal" fill="#231f20" text-anchor="middle" textLength="136.5" lengthAdjust="spacing" transform="rotate(-90.00 177.30 514.20)" >min100-max600</text>
<line x1="211.90" y1="624.90" x2="211.90" y2="694.60" stroke="#231f20" stroke-width="0.9" />
<polygon points="211.90,624.90 214.90,639.90 208.90,639.90" fill="#231f20"/>
<polygon points="211.90,694.60 208.90,679.60 214.90,679.60" fill="#231f20"/>
<line x1="207.90" y1="623.90" x2="246.70" y2="625.90" stroke="#231f20" stroke-width="0.9" />
<line x1="207.90" y1="693.60" x2="248.70" y2="696.60" stroke="#231f20" stroke-width="0.9" />
<text x="202.20" y="665.00" font-size="16.5" font-weight="normal" fill="#231f20" text-anchor="middle" textLength="19" lengthAdjust="spacing" transform="rotate(-90.00 202.20 659.20)" >83</text>
<line x1="228.80" y1="725.50" x2="305.50" y2="769.30" stroke="#231f20" stroke-width="0.9" />
<line x1="305.50" y1="769.30" x2="355.30" y2="769.30" stroke="#231f20" stroke-width="0.9" />
<polygon points="250.70,737.40 236.04,733.02 238.85,727.72" fill="#231f20"/>
<polygon points="254.70,740.40 269.20,745.28 266.20,750.48" fill="#231f20"/>
<text x="309.50" y="765.30" font-size="16.5" font-weight="normal" fill="#231f20" text-anchor="start" textLength="37.8" lengthAdjust="spacing" >Ø8.5</text>
<line x1="333.80" y1="490.00" x2="438.40" y2="495.50" stroke="#231f20" stroke-width="0.9" />
<polygon points="333.80,490.00 348.94,487.79 348.62,493.78" fill="#231f20"/>
<polygon points="438.40,495.50 423.26,497.71 423.58,491.72" fill="#231f20"/>
<text x="375.20" y="489.20" font-size="16.5" font-weight="normal" fill="#231f20" text-anchor="start" textLength="30" lengthAdjust="spacing" transform="rotate(3.00 390.00 484.00)" >150</text>
<line x1="454.30" y1="445.70" x2="454.30" y2="520.40" stroke="#231f20" stroke-width="0.9" />
<polygon points="454.30,445.70 457.30,460.70 451.30,460.70" fill="#231f20"/>
<polygon points="454.30,520.40 451.30,505.40 457.30,505.40" fill="#231f20"/>
<line x1="439.40" y1="444.70" x2="457.30" y2="445.70" stroke="#231f20" stroke-width="0.9" />
<line x1="439.40" y1="519.40" x2="461.30" y2="521.80" stroke="#231f20" stroke-width="0.9" />
<text x="464.20" y="489.50" font-size="16.5" font-weight="normal" fill="#231f20" text-anchor="middle" textLength="20" lengthAdjust="spacing" transform="rotate(90.00 464.20 483.50)" >90</text>
<line x1="878.60" y1="426.30" x2="878.60" y2="590.00" stroke="#231f20" stroke-width="0.9" />
<polygon points="878.60,426.30 881.60,441.30 875.60,441.30" fill="#231f20"/>
<polygon points="878.60,590.00 875.60,575.00 881.60,575.00" fill="#231f20"/>
<line x1="851.00" y1="425.10" x2="883.30" y2="427.50" stroke="#231f20" stroke-width="0.9" />
<line x1="851.00" y1="588.80" x2="883.30" y2="591.20" stroke="#231f20" stroke-width="0.9" />
<text x="887.50" y="517.70" font-size="16.5" font-weight="normal" fill="#231f20" text-anchor="middle" textLength="30" lengthAdjust="spacing" transform="rotate(90.00 887.50 511.70)" >194</text>
<line x1="870.20" y1="625.90" x2="920.40" y2="538.60" stroke="#231f20" stroke-width="0.9" />
<line x1="920.40" y1="538.60" x2="958.60" y2="538.60" stroke="#231f20" stroke-width="0.9" />
<polygon points="908.60,559.00 912.76,545.81 917.96,548.82" fill="#231f20"/>
<polygon points="878.00,612.00 873.65,625.13 868.50,622.05" fill="#231f20"/>
<line x1="829.10" y1="557.10" x2="912.00" y2="562.00" stroke="#231f20" stroke-width="0.9" />
<line x1="753.80" y1="602.80" x2="883.30" y2="609.90" stroke="#231f20" stroke-width="0.9" />
<text x="930.00" y="535.00" font-size="16.5" font-weight="normal" fill="#231f20" text-anchor="start" textLength="19" lengthAdjust="spacing" >90</text>
<line x1="743.90" y1="833.10" x2="851.50" y2="764.30" stroke="#231f20" stroke-width="0.9" />
<polygon points="743.90,833.10 754.92,822.49 758.15,827.55" fill="#231f20"/>
<polygon points="851.50,764.30 840.48,774.91 837.25,769.85" fill="#231f20"/>
<line x1="743.90" y1="807.70" x2="743.90" y2="836.00" stroke="#231f20" stroke-width="0.9" />
<line x1="851.50" y1="593.60" x2="851.50" y2="773.30" stroke="#231f20" stroke-width="0.9" />
<text x="805.20" y="789.80" font-size="16.5" font-weight="normal" fill="#231f20" text-anchor="middle" textLength="19" lengthAdjust="spacing" transform="rotate(-32.60 805.20 783.80)" >93</text>
<text x="610.90" y="305.50" font-size="16.5" font-weight="normal" fill="#231f20" text-anchor="start" textLength="38.3" lengthAdjust="spacing" >+15°</text>
<text x="678.50" y="297.20" font-size="16.5" font-weight="normal" fill="#231f20" text-anchor="start" textLength="35" lengthAdjust="spacing" >-15°</text>
<path d="M636,323 Q668,287 698,314" fill="none" stroke="#231f20" stroke-width="0.9"/>
<polygon points="633.90,326.50 638.50,316.01 643.41,320.11" fill="#231f20"/>
<polygon points="700.80,316.70 690.72,311.25 695.22,306.69" fill="#231f20"/>
<path d="M21.6,984.8 L21.6,966.6 L29,974.2 M28.4,977.6 L35.5,984.8 L35.5,966.6" fill="none" stroke="#888" stroke-width="2.9" stroke-linecap="round" stroke-linejoin="round"/>
<text x="40.30" y="985.80" font-size="26.5" font-weight="normal" fill="#888" text-anchor="start" textLength="123.4" lengthAdjust="spacing" stroke="#888" stroke-width="0.6">eomounts</text>
<text x="805.70" y="986.10" font-size="19" font-weight="normal" fill="#1a1a1a" text-anchor="start" textLength="174.4" lengthAdjust="spacing" >Measuring unit: mm</text>
</svg></body></html>
